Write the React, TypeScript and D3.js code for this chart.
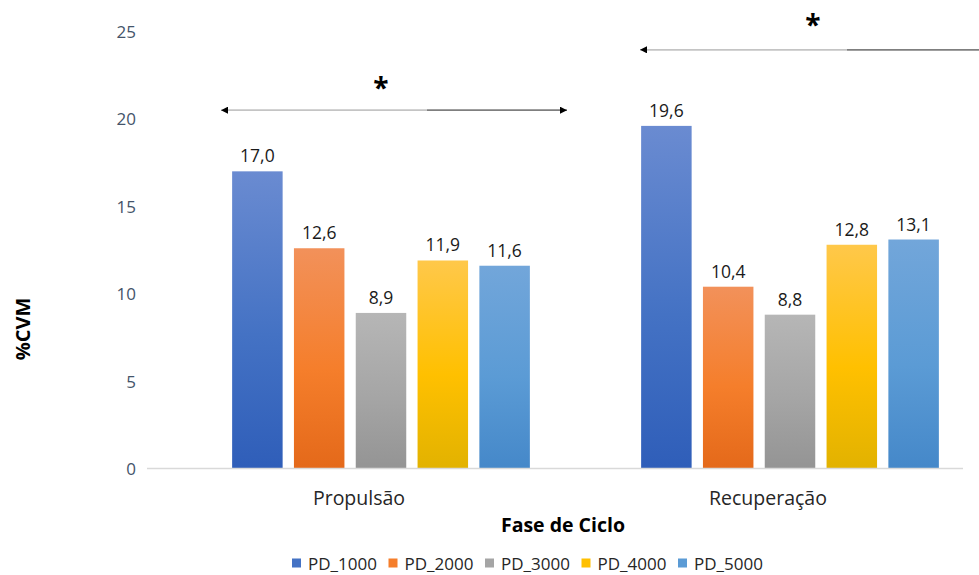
import React from "react";
import * as d3 from "d3";

const categories = ["Propulsão", "Recuperação"];
const seriesNames = ["PD_1000", "PD_2000", "PD_3000", "PD_4000", "PD_5000"];
const values: number[][] = [
  [17.0, 12.6, 8.9, 11.9, 11.6],
  [19.6, 10.4, 8.8, 12.8, 13.1],
];
const yTicks = [0, 5, 10, 15, 20, 25];
const seriesColors = [
  ["#6a8bd1", "#4472c4", "#2f5eb9"],
  ["#f2915a", "#f57e2b", "#e4691a"],
  ["#b6b6b6", "#a5a5a5", "#949494"],
  ["#ffc84a", "#ffc000", "#e2b200"],
  ["#72a6da", "#5b9bd5", "#4588c9"],
];
// significance annotations: category index, arrow level, star level
const sigLevels = [
  { cat: 0, level: 20.5, star: 22.05 },
  { cat: 1, level: 23.95, star: 25.65 },
];

const W = 979;
const H = 575;
const FONT = "'Open Sans', sans-serif";

export default function App() {
  const y = d3.scaleLinear().domain([0, 25]).range([468.5, 31.5]);
  const x0 = d3.scaleBand<string>().domain(categories).range([176.5, 994.5]);
  const x1 = d3
    .scaleBand<string>()
    .domain(seriesNames)
    .range([0, x0.bandwidth()])
    .paddingInner(0.183)
    .paddingOuter(0.9);

  const fmt = (v: number) => v.toFixed(1).replace(".", ",");

  return (
    <div style={{ position: "absolute", left: 0, top: 0 }}>
      <svg width={W} height={H} style={{ display: "block", background: "#fff" }}>
        <defs>
          {seriesColors.map((c, i) => (
            <linearGradient key={i} id={`g${i}`} x1="0" y1="0" x2="0" y2="1">
              <stop offset="0%" stopColor={c[0]} />
              <stop offset="55%" stopColor={c[1]} />
              <stop offset="100%" stopColor={c[2]} />
            </linearGradient>
          ))}
          <marker id="ah" viewBox="0 0 10 10" refX="10" refY="5" markerWidth="9" markerHeight="7" markerUnits="userSpaceOnUse" orient="auto-start-reverse">
            <path d="M0,0 L10,5 L0,10 z" fill="#000" />
          </marker>
        </defs>

        {/* y tick labels */}
        {yTicks.map((t) => (
          <text
            key={t}
            x={136}
            y={y(t)}
            textAnchor="end"
            dominantBaseline="central"
            fontFamily={FONT}
            fontSize={17}
            fill="#44546a"
          >
            {t}
          </text>
        ))}

        {/* bars */}
        {categories.map((cat, ci) =>
          seriesNames.map((s, si) => {
            const v = values[ci][si];
            const bx = (x0(cat) ?? 0) + (x1(s) ?? 0);
            const bw = x1.bandwidth();
            return (
              <g key={cat + s}>
                <rect x={bx} y={y(v)} width={bw} height={y(0) - y(v)} fill={`url(#g${si})`} />
                <text
                  x={bx + bw / 2}
                  y={y(v) - 9}
                  textAnchor="middle"
                  fontFamily={FONT}
                  fontSize={17.5}
                  fill="#1a1a1a"
                >
                  {fmt(v)}
                </text>
              </g>
            );
          })
        )}

        {/* x axis line */}
        <line x1={147} x2={963} y1={y(0)} y2={y(0)} stroke="#d9d9d9" strokeWidth={1.5} />

        {/* category labels */}
        {categories.map((c) => (
          <text
            key={c}
            x={(x0(c) ?? 0) + x0.bandwidth() / 2 - 22}
            y={497}
            textAnchor="middle"
            dominantBaseline="central"
            fontFamily={FONT}
            fontSize={19.5}
            fill="#262626"
          >
            {c}
          </text>
        ))}

        {/* axis titles */}
        <text x={563} y={524} textAnchor="middle" dominantBaseline="central" fontFamily={FONT} fontWeight="bold" fontSize={19.5} fill="#000">
          Fase de Ciclo
        </text>
        <text
          transform={`translate(22,329) rotate(-90)`}
          textAnchor="middle"
          dominantBaseline="central"
          fontFamily={FONT}
          fontWeight="bold"
          fontSize={20}
          fill="#000"
        >
          %CVM
        </text>

        {/* significance arrows */}
        {sigLevels.map((sg, i) => {
          const bs = x0(categories[sg.cat]) ?? 0;
          const xa = bs + (i === 1 ? 54.5 : 44.5);
          const xb = bs + (i === 1 ? 402 : 390.5);
          const xm = bs + (i === 1 ? 261.5 : 250.5);
          const yy = y(sg.level);
          const cx = bs + x0.bandwidth() / 2 + (i === 1 ? 23 : 0);
          return (
            <g key={i}>
              <line x1={xm} x2={xa} y1={yy} y2={yy} stroke="#c4c4c4" strokeWidth={1.6} markerEnd="url(#ah)" />
              <line x1={xm} x2={xb} y1={yy} y2={yy} stroke="#7f7f7f" strokeWidth={1.6} markerEnd="url(#ah)" />
              <text x={cx} y={y(sg.star) + 15} textAnchor="middle" fontFamily={FONT} fontWeight="bold" fontSize={28} fill="#000">
                *
              </text>
            </g>
          );
        })}

        {/* legend */}
        {seriesNames.map((s, i) => {
          const lx = 292 + i * 96.5;
          return (
            <g key={s}>
              <rect x={lx} y={558.5} width={9} height={9} fill={seriesColors[i][1]} />
              <text x={lx + 16} y={563} dominantBaseline="central" fontFamily={FONT} fontSize={17} fill="#262626">
                {s}
              </text>
            </g>
          );
        })}
      </svg>
    </div>
  );
}
